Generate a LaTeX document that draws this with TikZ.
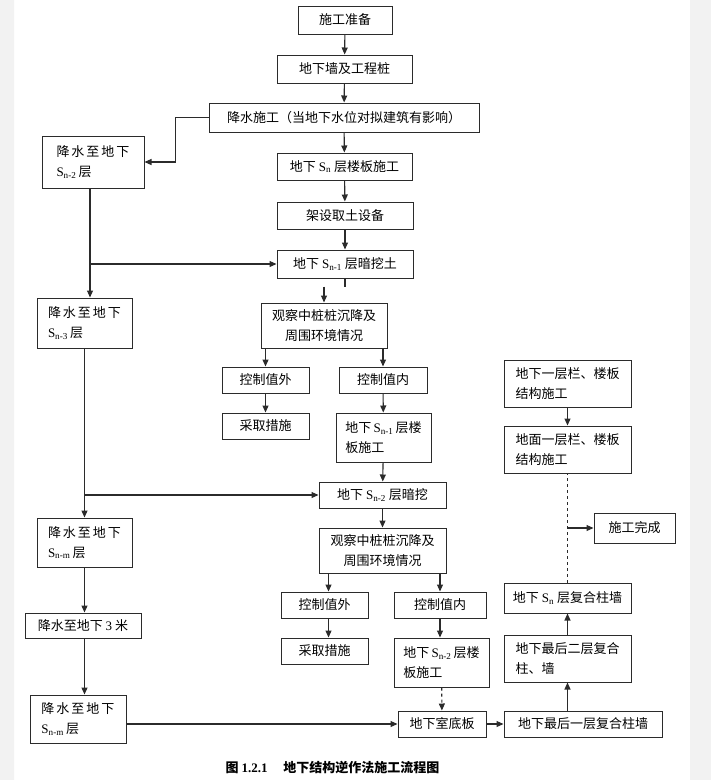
\documentclass[tikz,border=0pt]{standalone}
\usepackage{fontspec}
\setmainfont{Noto Sans CJK SC}
\newfontfamily\latn{Liberation Serif}
\usetikzlibrary{arrows.meta}
\definecolor{edge}{HTML}{2B2B2B}
\newcommand{\Sl}[1]{{\latn S\textsubscript{#1}}}
\newcommand{\jszd}{降\hspace{2pt}水\hspace{2pt}至\hspace{2pt}地\hspace{2pt}下}

\begin{document}
\begin{tikzpicture}[x=1pt,y=-1pt,
  box/.style={draw=edge,line width=1pt,inner sep=0pt,font=\fontsize{13}{20}\selectfont,align=center},
  lbox/.style={box,align=left},
  ln/.style={line width=1.1pt,edge},
  arr/.style={ln,-{Triangle[length=7pt,width=6pt]}}]
  \useasboundingbox (0,0) rectangle (711,780);
  \fill[black!5] (0,0) rectangle (14,780) (690,0) rectangle (711,780);

  % main column
  \node[box,minimum width=94pt,minimum height=28pt] (zb) at (345,20) {施工准备};
  \node[box,minimum width=135pt,minimum height=28pt] (dxq) at (344.5,69) {地下墙及工程桩};
  \node[box,minimum width=270pt,minimum height=29pt] (jsg) at (344,117.5) {降水施工（当地下水位对拟建筑有影响）};
  \node[box,minimum width=135pt,minimum height=27pt] (sn) at (344.5,166.5) {地下 \Sl{n} 层楼板施工};
  \node[box,minimum width=136pt,minimum height=27pt] (jssb) at (345,215.5) {架设取土设备};
  \node[box,minimum width=136pt,minimum height=28pt] (wt1) at (345,264) {地下 \Sl{n-1} 层暗挖土};
  \node[box,minimum width=126pt,minimum height=45pt] (gc1) at (324,325.5) {观察中桩桩沉降及\\周围环境情况};
  \node[box,minimum width=87pt,minimum height=26pt] (kw1) at (265.5,380) {控制值外};
  \node[box,minimum width=88pt,minimum height=26pt] (kn1) at (383,380) {控制值内};
  \node[box,minimum width=87pt,minimum height=26pt] (cq1) at (265.5,426) {采取措施};
  \node[lbox,minimum width=95pt,minimum height=49pt] (lb1) at (383.5,437.5) {地下\,\Sl{n-1}\,层楼\\板施工};
  \node[box,minimum width=127pt,minimum height=26pt] (wa2) at (382.5,495) {地下 \Sl{n-2} 层暗挖};
  \node[box,minimum width=127pt,minimum height=45pt] (gc2) at (382.5,550.5) {观察中桩桩沉降及\\周围环境情况};
  \node[box,minimum width=87pt,minimum height=26pt] (kw2) at (324.5,605) {控制值外};
  \node[box,minimum width=92pt,minimum height=26pt] (kn2) at (440,605) {控制值内};
  \node[box,minimum width=87pt,minimum height=26pt] (cq2) at (324.5,651) {采取措施};
  \node[lbox,minimum width=95pt,minimum height=49pt] (lb2) at (441.5,662.5) {地下\,\Sl{n-2}\,层楼\\板施工};
  \node[box,minimum width=88pt,minimum height=26pt] (dsb) at (442,724) {地下室底板};

  % dewatering column
  \node[lbox,minimum width=102pt,minimum height=52pt] (j2) at (93,162) {\jszd\\\Sl{n-2}\,层\hspace{26pt}\null};
  \node[lbox,minimum width=95pt,minimum height=50pt] (j3) at (84.5,323) {\jszd\\\Sl{n-3}\,层\hspace{26pt}\null};
  \node[lbox,minimum width=95pt,minimum height=49pt] (j4) at (84.5,542.5) {\jszd\\\Sl{n-m}\,层\hspace{26pt}\null};
  \node[box,minimum width=116pt,minimum height=25pt] (j5) at (83,625.5) {降水至地下 {\latn 3} 米};
  \node[lbox,minimum width=96pt,minimum height=48pt] (j6) at (78,719) {\jszd\\\Sl{n-m}\,层\hspace{26pt}\null};

  % right column
  \node[lbox,minimum width=127pt,minimum height=47pt] (dx1) at (567.5,383.5) {地下一层栏、楼板\\结构施工};
  \node[lbox,minimum width=127pt,minimum height=47pt] (dm) at (567.5,449.5) {地面一层栏、楼板\\结构施工};
  \node[box,minimum width=81pt,minimum height=30pt] (wc) at (634.5,528) {施工完成};
  \node[box,minimum width=127pt,minimum height=30pt] (snf) at (567.5,598) {地下 \Sl{n} 层复合柱墙};
  \node[lbox,minimum width=127pt,minimum height=47pt] (zh2) at (567.5,658.5) {地下最后二层复合\\柱、墙};
  \node[box,minimum width=158pt,minimum height=26pt] (zh1) at (583,724) {地下最后一层复合柱墙};

  \node[font=\bfseries\fontsize{13}{16}\selectfont] (cap) at (332.5,768)
    {图 {\latn 1.2.1}\hspace{1.2em}地下结构逆作法施工流程图};

  % connectors
  \draw[arr] (zb) -- (dxq);
  \draw[arr] (dxq) -- (jsg);
  \draw[arr] (jsg) -- (sn);
  \draw[arr] (sn) -- (jssb);
  \draw[arr] (jssb) -- (wt1);
  \draw[arr] (jsg.west) -- ++(-33,0) |- (j2.east);
  \draw[arr] ([xshift=-3pt]j2.south) |- (wt1.west);
  \draw[arr] ([xshift=-3pt]j2.south) -- ([xshift=-3pt]j2.south |- j3.north);
  \draw[ln] (wt1.south) -- ++(0,8);
  \draw[arr] ([yshift=-8pt]gc1.north |- wt1.south) -- (gc1.north);
  \draw[arr] (kw1.north |- gc1.south) -- (kw1.north);
  \draw[arr] (kn1.north |- gc1.south) -- (kn1.north);
  \draw[arr] (kw1) -- (cq1);
  \draw[arr] (kn1) -- (lb1);
  \draw[arr] (lb1) -- (wa2);
  \draw[arr] (j3.south) |- (wa2.west);
  \draw[arr] (j3.south) -- (j4.north);
  \draw[arr] (wa2) -- (gc2);
  \draw[arr] ([xshift=4pt]kw2.north |- gc2.south) -- ([xshift=4pt]kw2.north);
  \draw[arr] (kn2.north |- gc2.south) -- (kn2.north);
  \draw[arr] ([xshift=4pt]kw2.south) -- ([xshift=4pt]cq2.north);
  \draw[arr] (kn2.south) -- (kn2.south |- lb2.north);
  \draw[arr,dashed] (lb2) -- (dsb);
  \draw[arr] (j4.south) -- (j4.south |- j5.north);
  \draw[arr] (j5.south -| j4.south) -- (j4.south |- j6.north);
  \draw[arr] (j6.east |- dsb.west) -- (dsb.west);
  \draw[arr] (dsb) -- (zh1);
  \draw[arr] (zh2.south |- zh1.north) -- (zh2.south);
  \draw[arr] (zh2) -- (snf);
  \draw[ln,dashed] (snf) -- (dm);
  \draw[arr] (dx1) -- (dm);
  \draw[arr] (dm.south |- wc.west) -- (wc.west);
\end{tikzpicture}
\end{document}
